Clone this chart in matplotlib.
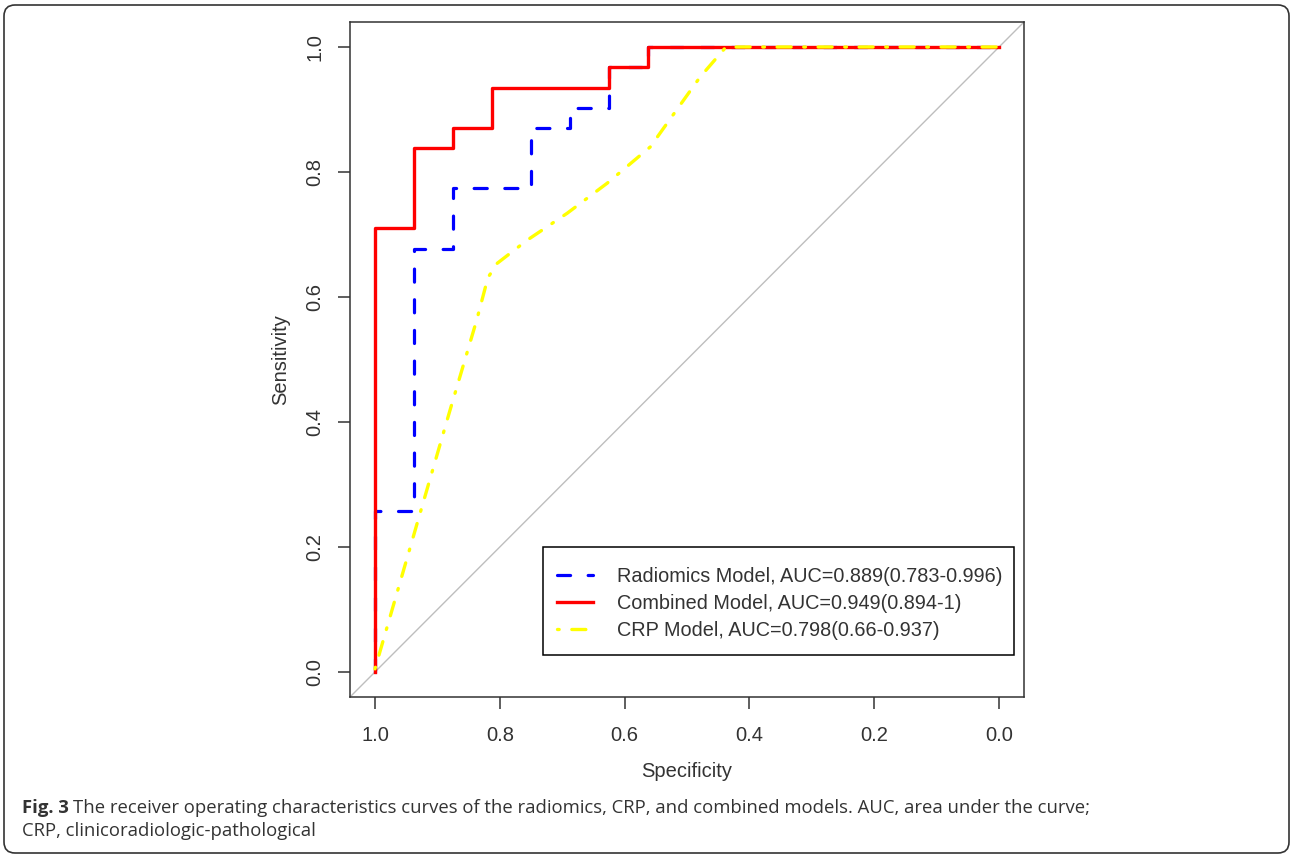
# ROC curves of the radiomics, combined and CRP models (Fig. 3)
import matplotlib
matplotlib.use("Agg")
import matplotlib.pyplot as plt
from matplotlib.patches import FancyBboxPatch, Rectangle

plt.rcParams['font.family'] = ['Liberation Sans', 'DejaVu Sans']

# specificity / sensitivity points
radiomics_spec = [1.0, 1.0, 0.9375, 0.9375, 0.875, 0.875, 0.75, 0.75, 0.6875, 0.6875,
                  0.625, 0.625, 0.5625, 0.5625, 0.0]
radiomics_sens = [0.0, 0.258, 0.258, 0.677, 0.677, 0.774, 0.774, 0.871, 0.871, 0.903,
                  0.903, 0.968, 0.968, 1.0, 1.0]

combined_spec = [1.0, 1.0, 0.9375, 0.9375, 0.875, 0.875, 0.8125, 0.8125, 0.625, 0.625,
                 0.5625, 0.5625, 0.0]
combined_sens = [0.0, 0.710, 0.710, 0.839, 0.839, 0.871, 0.871, 0.935, 0.935, 0.968,
                 0.968, 1.0, 1.0]

crp_spec = [1.0, 0.928, 0.880, 0.837, 0.819, 0.804, 0.756, 0.692, 0.628, 0.559, 0.479,
            0.4375, 0.0]
crp_sens = [0.005, 0.253, 0.418, 0.563, 0.631, 0.654, 0.691, 0.734, 0.782, 0.840, 0.952,
            1.0, 1.0]

labels = ["Radiomics Model, AUC=0.889(0.783-0.996)",
          "Combined Model, AUC=0.949(0.894-1)",
          "CRP Model, AUC=0.798(0.66-0.937)"]
ticks = [1.0, 0.8, 0.6, 0.4, 0.2, 0.0]

caption_bold = "Fig. 3"
caption_1 = "The receiver operating characteristics curves of the radiomics, CRP, and combined models. AUC, area under the curve;"
caption_2 = "CRP, clinicoradiologic-pathological"

W, H = 1290, 855
fig = plt.figure(figsize=(W / 100, H / 100), dpi=100)

# background layer in pixel coordinates for frame + caption
bg = fig.add_axes([0, 0, 1, 1])
bg.set_xlim(0, W)
bg.set_ylim(H, 0)
bg.axis("off")
bg.add_patch(FancyBboxPatch((4, 5), 1285, 848, boxstyle="round,pad=0,rounding_size=11",
                            fill=False, edgecolor="#333333", linewidth=1.2))

dark = "#333333"
fs = 14.5
ax = fig.add_axes([350 / W, 1 - 697 / H, 674 / W, 675 / H])
ax.set_xlim(1.04, -0.04)
ax.set_ylim(-0.04, 1.04)

ax.plot([1.04, -0.04], [-0.04, 1.04], color="#bebebe", lw=1)
ax.plot(radiomics_spec, radiomics_sens, color="#0000ff", lw=2.3,
        dashes=(4.1, 5.5), dash_capstyle="round", label=labels[0])
ax.plot(combined_spec, combined_sens, color="#ff0000", lw=2.4, label=labels[1])
ax.plot(crp_spec, crp_sens, color="#ffff00", lw=2.4,
        dashes=(0.5, 3.8, 4.2, 3.8), dash_capstyle="round", label=labels[2])

ax.set_xticks(ticks)
ax.set_yticks(ticks)
ax.set_xticklabels([f"{t:.1f}" for t in ticks])
ax.set_yticklabels([f"{t:.1f}" for t in ticks], rotation=90, va="center")
ax.tick_params(length=8.6, width=1.1, color=dark, labelcolor=dark, labelsize=fs)
ax.tick_params(axis="x", pad=12)
ax.tick_params(axis="y", pad=10)
for s in ax.spines.values():
    s.set_linewidth(1.1)
    s.set_color(dark)

ax.set_xlabel("Specificity", fontsize=fs, color=dark)
ax.set_ylabel("Sensitivity", fontsize=fs, color=dark)
ax.xaxis.set_label_coords(0.5, -0.096)
ax.yaxis.set_label_coords(-0.089, 0.5)

# legend box drawn separately so the padding can match
ax.add_patch(Rectangle((0.2864, 0.0622), 0.6988, 0.16, transform=ax.transAxes,
                       fill=False, edgecolor="black", linewidth=1.1, zorder=5))
leg = ax.legend(loc="upper left", bbox_to_anchor=(0.307, 0.193), fontsize=14.3,
                frameon=False, borderpad=0, labelspacing=0.42, handlelength=1.8,
                handletextpad=1.2, borderaxespad=0)
for t in leg.get_texts():
    t.set_color(dark)

# caption
fig.canvas.draw()
cfs = 13.3
tb = bg.text(22, 813, caption_bold, fontsize=cfs, fontweight="bold", color=dark,
             family="Open Sans", va="baseline")
bb = tb.get_window_extent(fig.canvas.get_renderer())
bg.text(22 + bb.width + 4, 813, caption_1, fontsize=cfs, color=dark,
        family="Open Sans", va="baseline")
bg.text(22, 836, caption_2, fontsize=cfs, color=dark, family="Open Sans", va="baseline")

fig.savefig("out.png", dpi=100)
